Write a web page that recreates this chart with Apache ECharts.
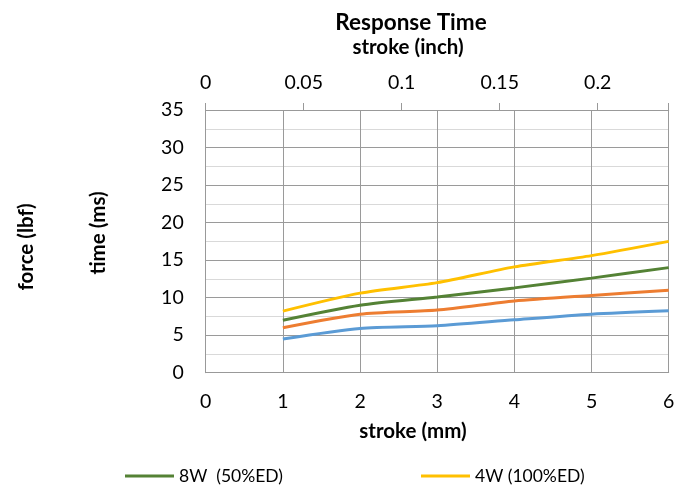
<!DOCTYPE html>
<html>
<head>
<meta charset="utf-8">
<script src="https://cdn.jsdelivr.net/npm/echarts@6/dist/echarts.min.js"></script>
<style>html,body{margin:0;padding:0;background:#fff;}#c{width:681px;height:490px;}</style>
</head>
<body>
<div id="c"></div>
<script>
var strokeMm = [1, 2, 3, 4, 5, 6];
var seriesNames = ['8W  (50%ED)', '4W (100%ED)', 'orange', 'blue'];
var green8W = [7.0, 9.0, 10.1, 11.3, 12.6, 14.0];
var yellow4W = [8.2, 10.6, 12.0, 14.1, 15.6, 17.5];
var orangeS = [6.0, 7.8, 8.35, 9.55, 10.3, 11.0];
var blueS = [4.5, 5.9, 6.25, 7.05, 7.8, 8.25];
var inchMax = 6 / 25.4;

function pairs(v){ return strokeMm.map(function(x,i){ return [x, v[i]]; }); }

var FONT = 'Lato';
var TICK = 19.5;
var chart = echarts.init(document.getElementById('c'));
function mk(name, data, color, z){
  return {name:name, type:'line', xAxisIndex:0, yAxisIndex:0, data:pairs(data), smooth:0.25,
    symbol:'none', lineStyle:{width:3, color:color}, itemStyle:{color:color}, z:z};
}
chart.setOption({
  animation:false,
  textStyle:{fontFamily:FONT},
  grid:{left:205.7, right:12.3, top:110, bottom:117.3, containLabel:false},
  legend:[
    {data:[seriesNames[0]], left:125, top:467, padding:0, itemWidth:49, itemHeight:3, icon:'rect', itemGap:4,
     textStyle:{fontFamily:FONT, fontSize:17.5, color:'#000'}},
    {data:[seriesNames[1]], left:421, top:467, padding:0, itemWidth:49, itemHeight:3, icon:'rect', itemGap:4,
     textStyle:{fontFamily:FONT, fontSize:17.5, color:'#000'}}
  ],
  xAxis:[
    {type:'value', position:'bottom', min:0, max:6, interval:1,
     axisLine:{show:true, lineStyle:{color:'#999', width:1}},
     axisTick:{show:false},
     axisLabel:{margin:19, fontSize:TICK, color:'#000', fontFamily:FONT},
     splitLine:{show:true, lineStyle:{color:'#9a9a9a', width:1}}},
    {type:'value', position:'top', min:0, max:inchMax, interval:0.05,
     axisLine:{show:true, lineStyle:{color:'#999', width:1}},
     axisTick:{show:true, length:7, inside:false, lineStyle:{color:'#999'}},
     axisLabel:{margin:17, fontSize:TICK, color:'#000', fontFamily:FONT,
       formatter:function(v){ return Math.abs(v-inchMax)<1e-6 ? '' : String(+v.toFixed(2)); }},
     splitLine:{show:false}}
  ],
  yAxis:[{type:'value', min:0, max:35, interval:5,
    axisLine:{show:true, lineStyle:{color:'#999', width:1}},
    axisTick:{show:false},
    axisLabel:{margin:22, fontSize:TICK, color:'#000', fontFamily:FONT},
    splitLine:{show:true, lineStyle:{color:'#9a9a9a', width:1}},
    minorTick:{show:false, splitNumber:2},
    minorSplitLine:{show:true, lineStyle:{color:'#d9d9d9', width:1}}}],
  graphic:[
    {type:'text', x:411, y:23, style:{text:'Response Time', font:'bold 22.5px '+FONT, fill:'#000', align:'center', verticalAlign:'middle'}},
    {type:'text', x:408, y:47, style:{text:'stroke (inch)', font:'bold 20.5px '+FONT, fill:'#000', align:'center', verticalAlign:'middle'}},
    {type:'text', x:413, y:431, style:{text:'stroke (mm)', font:'bold 20.5px '+FONT, fill:'#000', align:'center', verticalAlign:'middle'}},
    {type:'text', x:26, y:247, rotation:Math.PI/2, style:{text:'force (lbf)', font:'bold 20.5px '+FONT, fill:'#000', align:'center', verticalAlign:'middle'}},
    {type:'text', x:98, y:233, rotation:Math.PI/2, style:{text:'time (ms)', font:'bold 20.5px '+FONT, fill:'#000', align:'center', verticalAlign:'middle'}}
  ],
  series:[
    mk(seriesNames[3], blueS, '#5B9BD5', 3),
    mk(seriesNames[2], orangeS, '#ED7D31', 4),
    mk(seriesNames[0], green8W, '#548235', 5),
    mk(seriesNames[1], yellow4W, '#FFC000', 6)
  ]
});
</script>
</body>
</html>
